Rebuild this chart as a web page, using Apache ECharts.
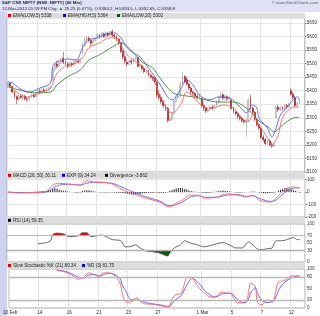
<!DOCTYPE html>
<html><head><meta charset="utf-8">
<script src="https://cdn.jsdelivr.net/npm/echarts@6/dist/echarts.min.js"></script>
<style>html,body{margin:0;padding:0;background:#fff;}#c{width:320px;height:316px;}</style>
</head><body><div id="c"></div>
<script>
const dayNames = ['10 Feb','13','14','15','16','17','21','22','23','24','27','28','29','1 Mar','2','5','6','7','9','12'];
const shownDays = ['10 Feb','14','16','21','23','27','1 Mar','5','7','12'];
const hours = ['09:15','10:15','11:15','12:15','13:15','14:15','15:15'];
const barsLastDay = 5;

const opens = [5418,5428,5415,5395,5378,5368,5380, 5372,5380,5370,5368,5378,5384,5378, 5390,5398,5392,5402,5398,5405,5410,
 5440,5480,5498,5490,5505,5520,5505, 5498,5490,5500,5495,5505,5510,5506, 5540,5570,5588,5594,5585,5575,5585,
 5595,5605,5598,5610,5600,5612,5604, 5618,5605,5600,5590,5578,5545,5525, 5505,5498,5510,5505,5518,5522,5490,
 5492,5482,5470,5472,5458,5450,5445, 5430,5385,5375,5360,5345,5335,5290, 5295,5315,5360,5375,5380,5425,5452,
 5440,5425,5410,5395,5390,5380,5375, 5370,5345,5335,5325,5330,5340,5335, 5348,5358,5375,5385,5372,5378,5370,
 5365,5335,5322,5315,5305,5298,5290, 5282,5290,5370,5335,5320,5295,5275, 5262,5228,5220,5205,5215,5200,5196,
 5300,5340,5330,5338,5332,5345,5342, 5400,5388,5375,5345,5352];
const closes = [5428,5415,5395,5378,5368,5380,5375, 5380,5370,5368,5378,5384,5378,5385, 5398,5392,5402,5398,5405,5410,5412,
 5480,5498,5490,5505,5512,5505,5500, 5490,5500,5495,5505,5510,5506,5515, 5570,5588,5594,5585,5575,5585,5590,
 5605,5598,5610,5600,5612,5604,5614, 5605,5600,5590,5578,5545,5525,5510, 5498,5510,5505,5518,5522,5490,5495,
 5482,5470,5472,5458,5450,5445,5432, 5385,5375,5360,5345,5335,5290,5300, 5315,5360,5375,5380,5425,5452,5432,
 5425,5410,5395,5390,5380,5375,5382, 5345,5335,5325,5330,5340,5335,5345, 5358,5375,5385,5372,5378,5370,5374,
 5335,5322,5315,5305,5298,5290,5285, 5290,5365,5335,5320,5295,5275,5262, 5228,5220,5205,5215,5200,5196,5205,
 5340,5330,5338,5332,5345,5342,5350, 5388,5375,5345,5352,5359];
const lows = [5410,5410,5390,5372,5350,5362,5370, 5365,5364,5360,5364,5372,5374,5375, 5386,5388,5390,5394,5395,5400,5404,
 5435,5470,5482,5486,5498,5498,5494, 5482,5485,5488,5490,5500,5500,5502, 5535,5565,5580,5578,5565,5570,5580,
 5590,5592,5594,5595,5598,5600,5600, 5598,5590,5582,5570,5540,5515,5500, 5490,5492,5496,5500,5512,5485,5484,
 5475,5465,5460,5452,5444,5436,5428, 5375,5365,5352,5338,5325,5282,5286, 5290,5310,5355,5368,5376,5420,5428,
 5418,5402,5388,5380,5372,5368,5370, 5338,5325,5318,5320,5326,5328,5330, 5342,5352,5370,5366,5366,5362,5364,
 5330,5315,5308,5296,5290,5284,5278, 5230,5285,5330,5312,5288,5268,5255, 5222,5212,5198,5200,5195,5188,5192,
 5298,5322,5325,5326,5328,5334,5336, 5382,5368,5340,5340,5350];
const highs = [5435,5432,5418,5398,5382,5385,5386, 5388,5384,5375,5382,5390,5388,5392, 5404,5406,5408,5410,5412,5415,5418,
 5488,5505,5510,5512,5520,5543,5512, 5505,5508,5506,5512,5518,5516,5520, 5575,5595,5602,5600,5590,5592,5596,
 5612,5610,5615,5614,5618,5616,5620, 5625,5610,5604,5595,5580,5550,5530, 5512,5515,5515,5522,5530,5525,5500,
 5496,5486,5478,5476,5462,5455,5450, 5435,5392,5380,5365,5350,5340,5308, 5320,5366,5382,5386,5432,5468,5456,
 5450,5430,5414,5400,5394,5386,5388, 5374,5350,5340,5336,5345,5346,5350, 5364,5380,5395,5390,5384,5382,5380,
 5368,5340,5326,5320,5310,5302,5296, 5295,5372,5385,5340,5324,5300,5280, 5266,5236,5226,5222,5220,5210,5212,
 5345,5348,5344,5342,5350,5352,5356, 5408,5394,5380,5360,5364];

const emaHigh5 = [[0,5432],[2,5429],[5,5410],[10,5395],[15,5410],[20,5429],[21,5488],[23,5506],[28,5517],[32,5513],[35,5558],[38,5587],[42,5595],[46,5609],[50,5613],[53,5595],[56,5558],[59,5539],[62,5525],[65,5495],[69,5451],[71,5429],[75,5377],[77,5366],[81,5403],[84,5440],[87,5421],[90,5384],[95,5366],[99,5377],[104,5373],[109,5340],[112,5318],[115,5347],[117,5336],[118,5299],[122,5262],[124,5229],[126,5262],[128,5310],[131,5336],[134,5366],[136,5377],[137,5364]];
const emaLow5 = [[0,5421],[4,5395],[9,5377],[12,5384],[16,5395],[20,5410],[23,5465],[28,5495],[32,5502],[35,5521],[38,5558],[43,5576],[48,5595],[51,5591],[53,5569],[56,5532],[61,5502],[65,5477],[69,5429],[71,5392],[75,5329],[77,5318],[81,5347],[84,5395],[87,5377],[92,5340],[96,5336],[101,5347],[106,5336],[110,5299],[113,5285],[115,5310],[118,5273],[122,5226],[124,5200],[127,5237],[129,5299],[133,5336],[136,5340],[137,5338]];
const emaLow20 = [[0,5414],[5,5403],[12,5392],[20,5395],[23,5421],[28,5451],[34,5477],[38,5513],[43,5532],[49,5561],[53,5576],[59,5539],[63,5506],[68,5484],[71,5451],[77,5395],[81,5384],[87,5377],[93,5366],[99,5358],[106,5358],[112,5336],[118,5288],[123,5262],[125,5248],[128,5266],[131,5285],[134,5299],[137,5302]];

const macdLine = [[0,0],[5,-8],[12,-5],[18,5],[21,55],[24,70],[30,60],[34,55],[37,90],[42,75],[46,75],[50,55],[54,15],[59,-15],[63,-40],[68,-65],[71,-80],[76,-120],[79,-90],[82,-65],[85,-25],[89,-25],[93,-50],[98,-40],[103,-15],[108,-25],[112,-40],[115,-25],[118,-65],[123,-80],[125,-65],[128,-10],[131,30],[134,40],[137,30]];
const macdSignal = [[0,0],[5,-5],[12,-6],[18,0],[21,30],[24,55],[30,62],[34,55],[37,70],[42,80],[46,75],[50,65],[54,35],[59,0],[63,-28],[68,-55],[71,-70],[76,-110],[79,-100],[82,-80],[85,-45],[89,-30],[93,-42],[98,-42],[103,-25],[108,-22],[112,-35],[115,-30],[118,-50],[123,-75],[125,-72],[128,-35],[131,10],[134,30],[137,34]];
const macdHist = [-2,-3,-4,-5,-5,-4,-3,-3,-2,-1,0,1,2,3,4, 6,8,9,10,12,14, 24,30,26, 18,14,10,8,5,3,1, -2,-3,-3,-2,
 8,12,15,14,10,6, 2,0,-1,-2,-2,-3,-2,-1,-2,-3,-4,-5,-6,-8,-10, -14,-18,-20,-22,-20,-18,-15,-12,-10,-8,
 -6,-5,-5,-4,-4,-5, -6,-5,-4,-2, 8,15,22,28,32,34,30,25,20, 12,8,5,3,1,-1, -4,-6,-7,-6,-4,-2,
 2,5,8,10,12,10,8,5, 2,0,-2,-3,-3,-2,-1,0,1,2, 4,3,0,-3, -6,-8,-10,-9,-7,-5,-3,0, 10,18,25,30,32,28,22, 15,8,2,-4];

const rsi14 = [[14,48],[18,51],[20,56],[21,72],[23,76],[27,72],[28,67],[30,67],[33,69],[35,77],[37,77],[39,67],[42,69],[44,71],[46,67],[49,59],[53,56],[55,40],[57,40],[60,45],[62,37],[65,29],[68,27],[71,24],[75,16],[76,24],[78,37],[81,45],[83,56],[85,51],[89,45],[92,40],[95,43],[98,48],[101,51],[104,45],[107,37],[110,37],[113,53],[115,45],[118,32],[122,35],[124,37],[126,56],[129,56],[132,61],[134,64],[136,59],[137,59]];

const stochK = [[22,97],[26,92],[29,85],[32,74],[35,79],[37,90],[40,85],[42,79],[44,90],[46,90],[49,85],[52,64],[53,38],[55,15],[57,15],[60,26],[62,15],[65,10],[68,10],[71,6],[75,3],[76,13],[78,33],[81,38],[82,54],[84,79],[86,77],[89,54],[92,38],[95,28],[97,28],[100,41],[102,38],[104,38],[107,15],[110,13],[112,21],[114,64],[116,54],[117,15],[119,8],[122,21],[124,15],[125,26],[127,67],[129,69],[131,74],[133,82],[136,82],[137,80]];
const stochD = [[22,97],[26,94],[29,88],[32,80],[35,77],[37,84],[40,86],[42,82],[44,85],[46,89],[49,87],[52,75],[53,60],[55,40],[57,22],[60,20],[62,19],[65,13],[68,10],[71,8],[75,4],[76,7],[78,20],[81,32],[82,42],[84,62],[86,76],[89,65],[92,45],[95,32],[97,28],[100,35],[102,38],[104,38],[107,25],[110,14],[112,16],[114,40],[116,52],[117,38],[119,20],[122,14],[124,17],[125,20],[127,45],[129,62],[131,70],[133,77],[136,82],[137,82]];

const rsiLabels = [0,30,50,70,100];
const stochLabels = [0,20,50,80,100];

// categories
const cats = [];
const tickIdx = {};
dayNames.forEach((d, di) => {
  const n = di === dayNames.length - 1 ? barsLastDay : hours.length;
  if (shownDays.includes(d)) tickIdx[cats.length] = d;
  for (let h = 0; h < n; h++) cats.push(d + ' ' + hours[h]);
});
cats.push('', '');

const FF = 'Liberation Sans';
const L = 7, W = 298;
const grids = [
  {left:L, width:W, top:18, height:154},
  {left:L, width:W, top:178, height:39},
  {left:L, width:W, top:224, height:38},
  {left:L, width:W, top:269, height:39},
  {left:L, width:W, top:224, height:38*0.3, show:false},
  {left:L, width:W, top:224+38*0.7, height:38*0.3, show:false}
].map((g,i)=> i<4 ? Object.assign({show:true, backgroundColor:'#fff', borderColor:'#ababab', borderWidth:1}, g) : g);

function xAx(gi, lab) {
  return {type:'category', gridIndex:gi, data:cats, boundaryGap:true, show: gi<4,
    axisLine:{show:false}, axisTick:{show:false},
    axisLabel: lab ? {show:true, interval:(i)=> (i in tickIdx), formatter:(v,i)=> tickIdx[i] || '', fontSize:4.6, color:'#222', margin:2, fontFamily:FF} : {show:false},
    splitLine:{show: gi<4, interval:(i)=> (i in tickIdx), lineStyle:{color:'#e3e3e3', width:1}}};
}
const yBase = {type:'value', position:'right', axisLine:{show:false},
  axisTick:{show:true, length:2, lineStyle:{color:'#888'}},
  splitLine:{show:true, lineStyle:{color:'#e6e6e6', width:1}}};
function yLab(extra){ return Object.assign({fontSize:4.6, color:'#333', margin:2, fontFamily:FF, showMaxLabel:false, formatter:(v)=>String(v)}, extra||{}); }

const yAxes = [
  Object.assign({}, yBase, {gridIndex:0, min:5100, max:5668, interval:50, axisLabel:yLab()}),
  Object.assign({}, yBase, {gridIndex:1, min:-200, max:112, interval:100, axisLabel:yLab()}),
  Object.assign({}, yBase, {gridIndex:2, min:0, max:100, interval:10, axisTick:{show:false}, splitLine:{show:false},
     axisLabel:yLab({showMaxLabel:true, formatter:(v)=> rsiLabels.includes(v) ? String(v) : ''})}),
  Object.assign({}, yBase, {gridIndex:3, min:0, max:100, interval:10, axisTick:{show:false}, splitLine:{show:false},
     axisLabel:yLab({showMaxLabel:true, formatter:(v)=> stochLabels.includes(v) ? String(v) : ''})}),
  {type:'value', gridIndex:4, min:70, max:100, show:false},
  {type:'value', gridIndex:5, min:0, max:30, show:false}
];

const lineS = (xi, data, color, extra) => Object.assign({type:'line', xAxisIndex:xi, yAxisIndex:xi, data,
  showSymbol:false, smooth:0.35, lineStyle:{color, width:0.9}, itemStyle:{color}, z:4, animation:false, silent:true}, extra||{});

const ml = (vals) => ({silent:true, symbol:['none','none'], label:{show:false}, animation:false,
  data: vals.map(v=>({yAxis:v[0], lineStyle:{color:v[1], width:v[2], type:'solid'}}))});

const candleData = opens.map((o,i)=>[o, closes[i], lows[i], highs[i]]);

const series = [
  {type:'candlestick', xAxisIndex:0, yAxisIndex:0, data:candleData, barWidth:'65%', animation:false, silent:true, z:3,
   itemStyle:{color:'#ffffff', color0:'#a00000', borderColor:'#8a8a8a', borderColor0:'#a00000', borderWidth:0.5}},
  lineS(0, emaLow20, '#3f8a3f'),
  lineS(0, emaLow5, '#f06a6a'),
  lineS(0, emaHigh5, '#5c5cf2'),
  {type:'bar', xAxisIndex:1, yAxisIndex:1, data:macdHist, barWidth:1, itemStyle:{color:'#222'}, animation:false, silent:true, z:3},
  lineS(1, macdSignal, '#6464ff'),
  lineS(1, macdLine, '#ff6060'),
  lineS(4, rsi14, '#ff0000', {lineStyle:{width:0}, areaStyle:{color:'#f00000', opacity:1, origin:'start'}, z:2, smooth:0.25}),
  lineS(5, rsi14, '#006000', {lineStyle:{width:0}, areaStyle:{color:'#0a5a0a', opacity:1, origin:'end'}, z:2, smooth:0.25}),
  lineS(2, rsi14, '#555555', {smooth:0.25, markLine: ml([[70,'#f2a0a0',1],[30,'#b0b0b0',1.4]])}),
  lineS(3, stochD, '#5a5aff', {markLine: ml([[80,'#b8b8b8',1.4],[20,'#b8b8b8',1.4]])}),
  lineS(3, stochK, '#ff5a5a')
];

// graphics
const g = [];
const rect = (x,y,w,h,fill,z)=>g.push({type:'rect', shape:{x,y,width:w,height:h}, style:{fill}, z:z||0, silent:true});
const txt = (x,y,text,opt)=>g.push(Object.assign({type:'text', x, y, z:20, silent:true,
  style:Object.assign({text, fontSize:4.6, fontFamily:FF, fill:'#222', verticalAlign:'middle'}, (opt||{}).style||{})}, (opt||{}).el||{}));
const sq = (x,y,c)=>rect(x,y-1.5,3,3,c,21);

rect(0,0,320,12,'#dfe2f6',-1);
rect(0,12,7,304,'#cdd3f1',-1);
[[13,5],[172.5,5.5],[217.5,5.5],[262.5,6]].forEach(b=>rect(L,b[0],W,b[1],'#dcdcdc',15));

txt(2,3,'S&P CNX NIFTY (NSE: NIFTY) (60 Min)',{style:{fontWeight:'bold', fontSize:4.4}});
txt(2,9,'{a|12-Mar-2012 01:59 PM Chg: }{g|▲}{a| 25.25 (0.47%), O:5384.2, H:5393.5, L:5352.65, C:5358.8}',
  {style:{fontSize:4.4, rich:{a:{fontSize:4.4, fontFamily:FF, fill:'#222'}, g:{fontSize:4.4, fontFamily:FF, fill:'#0a8a0a'}}}});
txt(318,3,'© www.StockCharts.com',{style:{fontSize:4.2, fill:'#555', align:'right'}});

sq(8,15.5,'#e00000'); txt(13,15.5,'EMA(LOW,5) 5338');
sq(63,15.5,'#0000e0'); txt(68,15.5,'EMA(HIGH,5) 5364');
sq(117,15.5,'#006000'); txt(122,15.5,'EMA(LOW,20) 5302');

sq(8,175.3,'#e00000'); txt(13,175.3,'MACD (26, 50) 30.11');
sq(62,175.3,'#0000e0'); txt(67,175.3,'EXP (9) 34.24');
sq(105,175.3,'#000000'); txt(110,175.3,'Divergence -3.862');

sq(8,220.3,'#000000'); txt(13,220.3,'RSI (14) 59.35');

sq(8,265.5,'#e00000'); txt(13,265.5,'Slow Stochastic %K (21) 80.34');
sq(82,265.5,'#0000e0'); txt(87,265.5,'%D (3) 81.75');

const chart = echarts.init(document.getElementById('c'), null, {renderer:'canvas'});
chart.setOption({
  animation:false,
  backgroundColor:'#ffffff',
  grid: grids,
  xAxis: [xAx(0,false), xAx(1,false), xAx(2,false), xAx(3,true), xAx(4,false), xAx(5,false)],
  yAxis: yAxes,
  series,
  graphic: g
});
</script></body></html>
